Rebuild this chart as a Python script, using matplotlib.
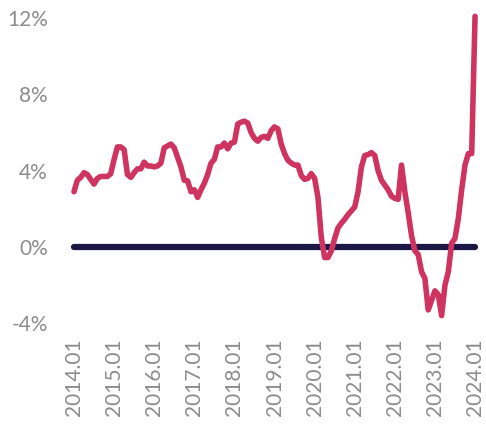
import matplotlib
matplotlib.use("Agg")
import matplotlib.pyplot as plt
import numpy as np

# monthly year-over-year change, 2014.01 .. 2024.01 (%)
values = [
    2.9, 3.5, 3.65, 3.9, 3.8, 3.55, 3.3, 3.6, 3.7, 3.7, 3.7, 3.85,
    4.6, 5.25, 5.25, 5.1, 3.8, 3.65, 3.9, 4.1, 4.1, 4.45, 4.25, 4.25,
    4.2, 4.25, 4.4, 5.2, 5.3, 5.4, 5.2, 4.7, 4.2, 3.5, 3.47, 2.9,
    3.0, 2.6, 3.0, 3.35, 3.8, 4.4, 4.6, 5.25, 5.25, 5.45, 5.15, 5.45,
    5.5, 6.45, 6.55, 6.6, 6.5, 6.0, 5.7, 5.55, 5.75, 5.8, 5.7, 6.1,
    6.3, 6.2, 5.4, 4.9, 4.55, 4.4, 4.3, 4.3, 3.75, 3.55, 3.6, 3.85,
    3.6, 2.6, 0.5, -0.55, -0.55, -0.2, 0.45, 1.0, 1.25, 1.45, 1.7, 1.9,
    2.1, 2.9, 4.2, 4.8, 4.85, 4.95, 4.8, 4.0, 3.5, 3.25, 3.0, 2.66,
    2.55, 2.5, 4.3, 2.9, 1.8, 0.6, -0.2, -0.4, -1.3, -1.65, -3.3, -2.8,
    -2.3, -2.5, -3.6, -2.0, -1.3, 0.2, 0.45, 1.5, 3.0, 4.3, 4.9, 4.9,
    12.1,
]
tick_labels = ["2014.01", "2015.01", "2016.01", "2017.01", "2018.01",
               "2019.01", "2020.01", "2021.01", "2022.01", "2023.01",
               "2024.01"]
y_ticks = [-4, 0, 4, 8, 12]

months = np.arange(len(values))

fig = plt.figure(figsize=(4.86, 4.24), dpi=100)
ax = fig.add_axes([0.1385, 0.2151, 0.8527, 0.7644])

ax.hlines(0, months[0], months[-1], color="#1c1845", linewidth=4.5,
          capstyle="round", zorder=2)
ax.plot(months, values, color="#cf3461", linewidth=4.0,
        solid_capstyle="round", solid_joinstyle="round", zorder=3,
        clip_on=False)

ax.set_xlim(-2, 122)
ax.set_ylim(-4.5, 12.5)
ax.set_xticks(months[::12])
ax.set_xticklabels(tick_labels, rotation=90)
ax.set_yticks(y_ticks)
ax.set_yticklabels([f"{t}%" for t in y_ticks])

for lab in ax.get_xticklabels() + ax.get_yticklabels():
    lab.set_fontfamily("Lato")
    lab.set_fontweight("normal")
    lab.set_fontsize(15)
    lab.set_color("#8c8c8c")

ax.tick_params(axis="both", length=0)
ax.tick_params(axis="x", pad=4)
ax.tick_params(axis="y", pad=14)
for s in ax.spines.values():
    s.set_visible(False)

fig.savefig("out.png", dpi=100)
